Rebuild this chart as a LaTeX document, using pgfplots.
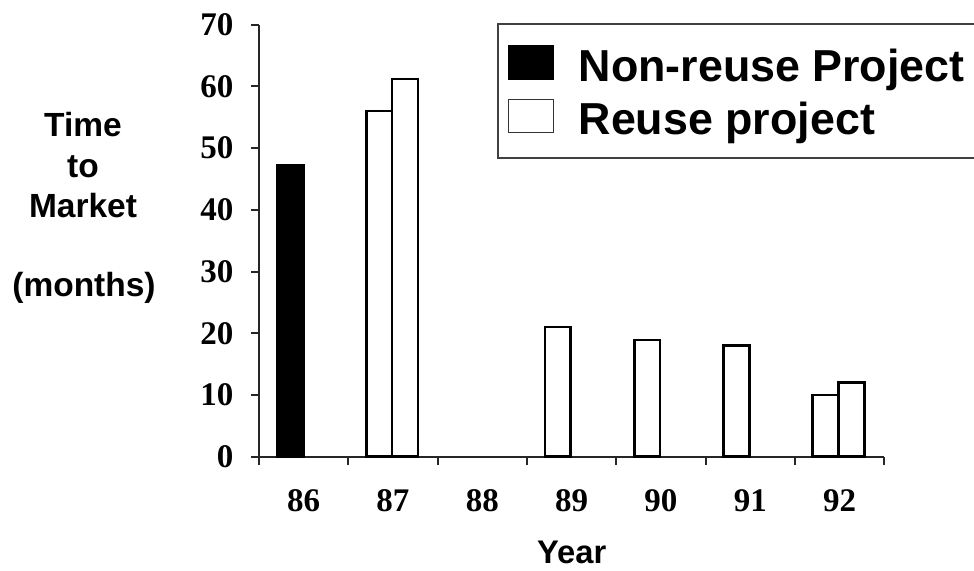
\documentclass[border=0pt]{standalone}
\usepackage{fontspec}
\setmainfont{Liberation Sans}
\newfontfamily\tnr{Liberation Serif}
\usepackage{pgfplots}
\pgfplotsset{compat=1.18}
\begin{document}
\begin{tikzpicture}
\begin{axis}[
  at={(0pt,0pt)}, anchor=south west,
  scale only axis, width=625.3pt, height=432pt,
  xmin=-0.5, xmax=6.5, ymin=0, ymax=70,
  axis x line=bottom, axis y line=left,
  axis line style={-, line width=2pt, black!85},
  xtick={-0.5,0.5,1.5,2.5,3.5,4.5,5.5,6.5},
  x tick label as interval,
  xticklabels={86,87,88,89,90,91,92},
  ytick={0,10,20,30,40,50,60,70},
  tick align=outside,
  major tick length=8pt,
  tick style={line width=2pt, black!85},
  /pgf/number format/assume math mode=true,
  ticklabel style={font=\tnr\bfseries\fontsize{33}{33}\selectfont},
  xticklabel style={yshift=-21pt},
  yticklabel style={xshift=-14pt},
  legend cell align=left,
  legend style={at={(rel axis cs:0.380,1.0046)}, anchor=north west,
    draw=black!75, line width=2pt, fill=white,
    font=\bfseries\fontsize{44.8}{44.8}\selectfont,
    inner xsep=10pt, inner ysep=13.4pt, row sep=-0.6pt,
    cells={anchor=base west},
    nodes={inner sep=0pt, anchor=base west, text height=43.9pt, text depth=10pt}},
  clip=false,
]
\addplot[ybar, bar width=0.3, bar shift=-0.15, fill=black, draw=black, line width=2.7pt,
  legend image code/.code={\draw[fill=black, draw=black, line width=1.5pt] (0pt,1.7pt) rectangle (45pt,35pt); \path (69pt,1.7pt);}]
  coordinates {(0,47.2)};
\addlegendentry{Non-reuse Project}
\addplot[ybar, bar width=0.29, bar shift=-0.155, fill=white, draw=black, line width=2.7pt,
  legend image code/.code={\draw[fill=white, draw=black!80, line width=1.5pt] (0pt,1.7pt) rectangle (45pt,35pt); \path (69pt,1.7pt);}]
  coordinates {(1,56) (3,21) (4,18.9) (5,18) (6,10)};
\addlegendentry{Reuse project}
\addplot[ybar, bar width=0.29, bar shift=0.135, fill=white, draw=black, line width=2.7pt, forget plot]
  coordinates {(1,61.2) (6,12)};
\end{axis}
\node[anchor=base, font=\bfseries\fontsize{33.5}{33.5}\selectfont] at (-176pt,319.7pt) {Time};
\node[anchor=base, font=\bfseries\fontsize{33.5}{33.5}\selectfont] at (-176pt,278.7pt) {to};
\node[anchor=base, font=\bfseries\fontsize{33.5}{33.5}\selectfont] at (-176pt,238.7pt) {Market};
\node[anchor=base, font=\bfseries\fontsize{33.5}{33.5}\selectfont] at (-175pt,160pt) {(months)};
\node[anchor=base, font=\bfseries\fontsize{32.7}{32.7}\selectfont] at (312.7pt,-106.3pt) {Year};
\pgfresetboundingbox
\path[use as bounding box] (-259pt,-113.3pt) rectangle (715pt,456.7pt);
\end{tikzpicture}
\end{document}
